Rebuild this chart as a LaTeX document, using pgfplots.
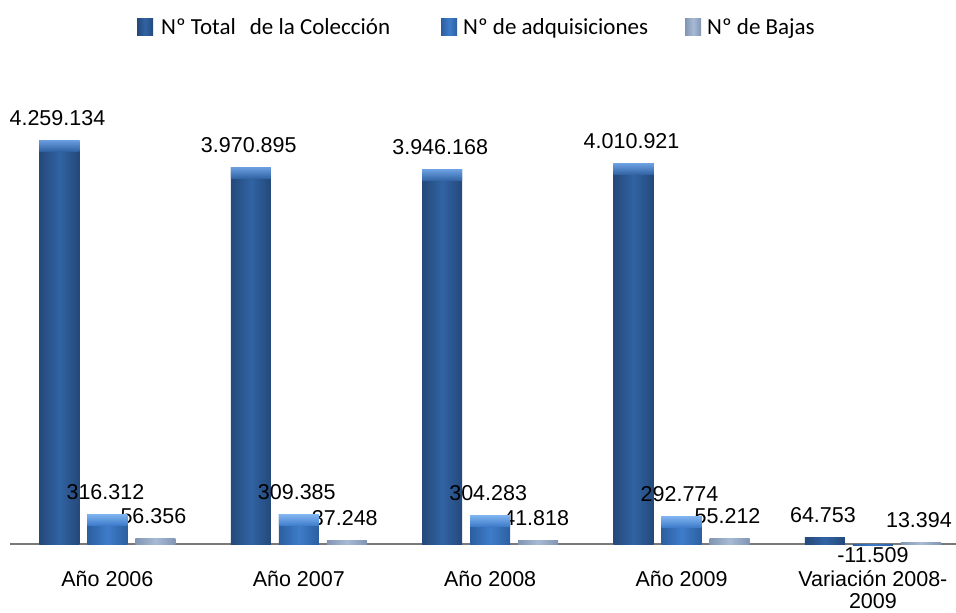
\documentclass[border=0pt]{standalone}
\usepackage{fontspec}
\setmainfont{Liberation Sans}
\newfontfamily\legendfont{Carlito}
\usepackage{pgfplots}
\pgfplotsset{compat=1.18}
\usetikzlibrary{shapes.geometric}

\definecolor{c1e}{HTML}{24497A}
\definecolor{c1m}{HTML}{3163A3}
\definecolor{c1t}{HTML}{6A9EE0}
\definecolor{c2e}{HTML}{2C5FA0}
\definecolor{c2m}{HTML}{3E7CCA}
\definecolor{c2t}{HTML}{80B4F0}
\definecolor{c3e}{HTML}{8195B4}
\definecolor{c3m}{HTML}{A8BAD4}
\definecolor{c3t}{HTML}{D0DCEC}

\pgfplotsset{
  sA/.style={draw=none, left color=c1e, right color=c1e, middle color=c1m, bar shift=-48pt, forget plot},
  sB/.style={draw=none, left color=c2e, right color=c2e, middle color=c2m, bar shift=0pt, forget plot},
  sC/.style={draw=none, left color=c3e, right color=c3e, middle color=c3m, bar shift=48pt, forget plot},
  lbl/.style={nodes near coords, nodes near coords style={anchor=south, yshift=14.5pt, xshift=-2pt}},
  bev/.style 2 args={forget plot, draw=none, fill=none, point meta=y, nodes near coords={},
     nodes near coords style={shape=trapezium, shape border rotate=180, trapezium angle=54,
       trapezium stretches body, minimum width=40pt, minimum height=11pt, inner sep=0pt,
       top color=#1, bottom color=#2, draw=none, anchor=center, yshift=-5.5pt}},
  myleg/.style={legend image code/.code={\path[##1,draw=none] (0pt,-8.5pt) rectangle (16pt,8.5pt);}},
}

\begin{document}
\begin{tikzpicture}
\useasboundingbox (0,0) rectangle (956pt,613pt);
\begin{axis}[
  at={(10pt,40.5pt)}, anchor=south west,
  scale only axis, width=946pt, height=483.76pt,
  xmin=-0.509, xmax=4.434, ymin=-300000, ymax=4800000,
  ybar=8pt, bar width=40pt,
  clip=false,
  axis line style={draw=none},
  major tick length=0pt,
  ytick=\empty,
  extra y ticks={0}, extra y tick labels={},
  extra y tick style={grid=major, major grid style={line width=2pt, draw=gray!95!black}},
  xtick={0,1,2,3,4},
  xticklabels={Año 2006, Año 2007, Año 2008, Año 2009, {Variación 2008-\\2009}},
  xticklabel style={align=center, inner sep=0pt, anchor=north, yshift=2pt, font=\fontsize{21.5}{22}\selectfont},
  point meta=explicit symbolic,
  every node near coord/.append style={font=\fontsize{21.5}{23}\selectfont, inner sep=0pt, text=black},
  legend columns=3,
  legend style={draw=none, fill=none, inner sep=0pt, at={(0.1342,1.1275)}, anchor=west,
    font=\legendfont\fontsize{23}{24}\selectfont,
    nodes={inner sep=0pt},
    /tikz/column 1/.style={column sep=8pt},
    /tikz/column 2/.style={column sep=51pt},
    /tikz/column 3/.style={column sep=6pt},
    /tikz/column 4/.style={column sep=37pt},
    /tikz/column 5/.style={column sep=6pt}},
]
% Nº Total de la Colección
\addplot[sA, lbl] coordinates {(0,4259134) [4.259.134]};
\addplot[sA, lbl] coordinates {(1,3970895) [3.970.895]};
\addplot[sA, lbl] coordinates {(2,3946168) [3.946.168]};
\addplot[sA, lbl] coordinates {(3,4010921) [4.010.921]};
\addplot[sA, lbl] coordinates {(4,64753) [64.753]};
% Nº de adquisiciones
\addplot[sB, lbl] coordinates {(0,316312) [316.312]};
\addplot[sB, lbl] coordinates {(1,309385) [309.385]};
\addplot[sB, lbl] coordinates {(2,304283) [304.283]};
\addplot[sB, lbl] coordinates {(3,292774) [292.774]};
\addplot[sB, nodes near coords, nodes near coords style={anchor=south, yshift=-18pt}] coordinates {(4,-11509) [-11.509]};
% Nº de Bajas
\addplot[sC, lbl] coordinates {(0,56356) [56.356]};
\addplot[sC, lbl] coordinates {(1,37248) [37.248]};
\addplot[sC, lbl] coordinates {(2,41818) [41.818]};
\addplot[sC, lbl] coordinates {(3,55212) [55.212]};
\addplot[sC, lbl] coordinates {(4,13394) [13.394]};
% bevels at the bar tops
\addplot[bev={c1t}{c1m}, bar shift=-48pt] coordinates {(0,4259134) (1,3970895) (2,3946168) (3,4010921)};
\addplot[bev={c2t}{c2m}, bar shift=0pt] coordinates {(0,316312) (1,309385) (2,304283) (3,292774)};
% legend
\addlegendimage{draw=none, left color=c1e, right color=c1e, middle color=c1m, myleg}
\addlegendentry{Nº Total\hspace{14pt}de la Colección}
\addlegendimage{draw=none, left color=c2e, right color=c2e, middle color=c2m, myleg}
\addlegendentry{Nº de adquisiciones}
\addlegendimage{draw=none, left color=c3e, right color=c3e, middle color=c3m, myleg}
\addlegendentry{Nº de Bajas}
\end{axis}
\end{tikzpicture}
\end{document}
